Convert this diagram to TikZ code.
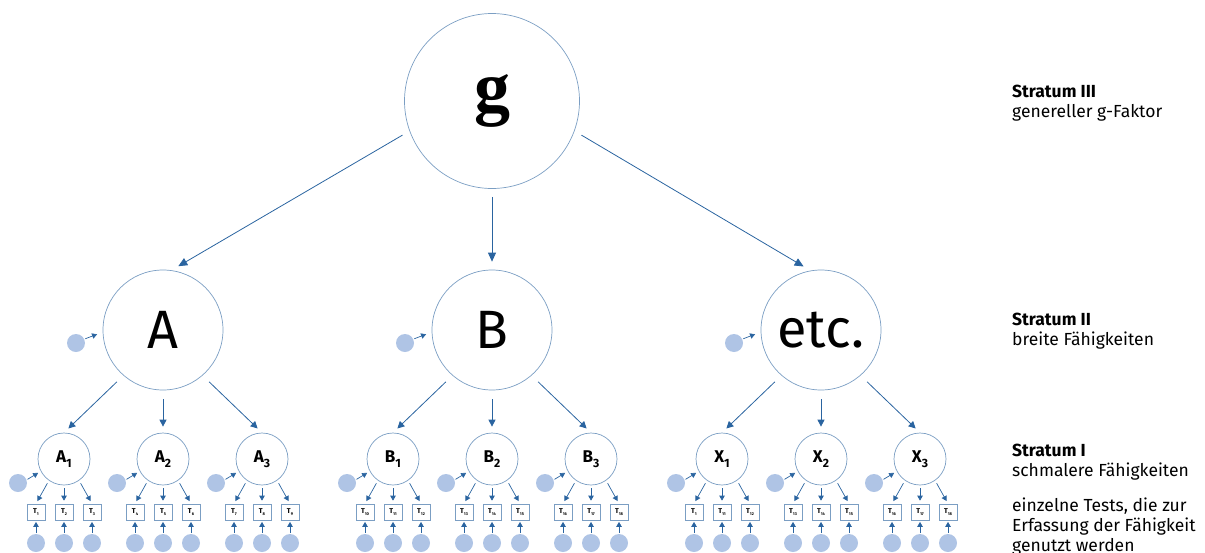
\documentclass[tikz,border=0pt]{standalone}
\usepackage{fontspec}
\setmainfont{Fira Sans}
\newfontfamily\gfont{Liberation Serif}
\usetikzlibrary{arrows.meta,positioning}

\definecolor{ring}{HTML}{7B9EC3}
\definecolor{arr}{HTML}{2A64A0}
\definecolor{dot}{HTML}{AFC4E5}

\newcommand{\lowidx}[2]{\raisebox{-0.28em}{\fontsize{#1}{#1}\selectfont #2}}

\begin{document}
\begin{tikzpicture}[x=1pt, y=-1pt,
    factor/.style = {circle, draw=ring, line width=0.7pt, inner sep=0pt},
    stratI/.style = {factor, minimum size=52pt, font=\fontsize{17}{17}\selectfont\bfseries},
    test/.style = {draw=ring, line width=0.7pt, fill=white, minimum width=18pt, minimum height=16pt,
                   inner sep=0pt, font=\fontsize{7}{7}\selectfont\bfseries},
    err/.style = {circle, fill=dot, minimum size=18pt, inner sep=0pt},
    link/.style = {draw=arr, line width=0.8pt, -{Triangle[length=9pt,width=8pt]}, shorten <=8pt, shorten >=8pt},
    midlink/.style = {draw=arr, line width=0.8pt, -{Triangle[length=7pt,width=7pt]}, shorten <=9pt, shorten >=6pt},
    tinylink/.style = {draw=arr, line width=0.7pt, -{Triangle[length=5pt,width=5.5pt]}},
    note/.style = {anchor=north west, inner sep=0pt, align=left, font=\fontsize{17.5}{20}\selectfont}]
    \useasboundingbox (0,0) rectangle (1205,552);

    % stratum III and II
    \node[factor, minimum size=175pt, font=\gfont\bfseries\fontsize{72}{72}\selectfont] (g) at (492,101) {g};
    \node[factor, minimum size=120pt, font=\fontsize{54}{54}\selectfont] (B) [node distance=229pt, below of=g] {B};
    \node[factor, minimum size=120pt, font=\fontsize{54}{54}\selectfont] (A) [node distance=329pt, left of=B] {A};
    \node[factor, minimum size=120pt, font=\fontsize{54}{54}\selectfont] (X) [node distance=329pt, right of=B] {etc.};

    \draw[link] (g.200) -- (A.82);
    \draw[link] (g.south) -- (B.north);
    \draw[link] (g.340) -- (X.100);

    % stratum I
    \foreach \f/\cx in {A/163, B/492, X/821} {
        \node[err] (\f e) at ([shift={(-87,13)}]\f.center) {};
        \draw[tinylink, shorten <=1pt, shorten >=6pt] (\f e.25) -- (\f.182);
        \foreach \i/\ang in {1/229, 2/270, 3/311} {
            \pgfmathsetmacro\xx{\cx+99*(\i-2)}
            \node[stratI] (\f\i) at (\xx,459) {\f\lowidx{12}{\i}};
            \draw[midlink] (\f.\ang) -- (\f\i.north);
        }
    }

    % tests
    \foreach \s/\ta/\tb/\tc in {A1/1/2/3, A2/4/5/6, A3/7/8/9, B1/10/11/12, B2/13/14/15, B3/16/17/18,
                                X1/1/11/12, X2/13/14/15, X3/16/17/18} {
        \node[err] (\s e) at ([shift={(-46,24)}]\s.center) {};
        \draw[tinylink, shorten <=1pt, shorten >=3pt] (\s e.20) -- (\s.208);
        \foreach \k/\dx/\tn/\ang in {a/-28/\ta/235, b/0/\tb/270, c/28/\tc/305} {
            \node[test] (\s\k) at ([shift={(\dx,53)}]\s.center) {T\lowidx{4}{\tn}};
            \node[err] (\s\k e) at ([shift={(0,31)}]\s\k.center) {};
            \draw[tinylink, shorten <=3pt, shorten >=3pt] (\s.\ang) -- (\s\k.north);
            \draw[tinylink, shorten <=1pt, shorten >=1.5pt] (\s\k e) -- (\s\k);
        }
    }

    % strata
    \node[note] (s3) at (1012,85) {\textbf{Stratum III}\\genereller g-Faktor};
    \node[note] (s2) at (1012,313) {\textbf{Stratum II}\\breite Fähigkeiten};
    \node[note] (s1) at (1012,444) {\textbf{Stratum I}\\schmalere Fähigkeiten};
    \node[note] (s0) at (1012,498) {einzelne Tests, die zur\\Erfassung der Fähigkeit\\genutzt werden};
\end{tikzpicture}
\end{document}
